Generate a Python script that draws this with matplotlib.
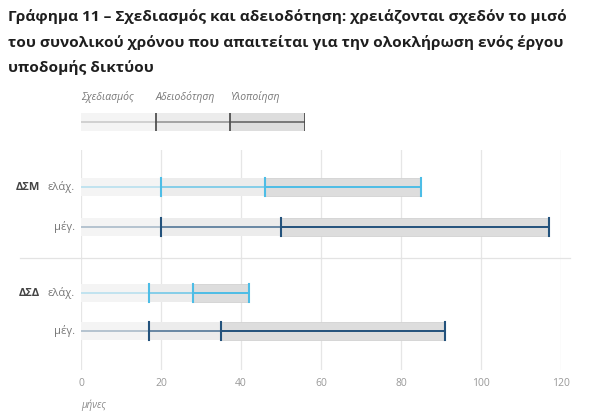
import matplotlib.pyplot as plt
from matplotlib.lines import Line2D

plt.rcParams['font.family'] = ['Open Sans', 'DejaVu Sans']

# data (months)
groups = ['ΔΣΜ', 'ΔΣΔ']
cases = ['ελάχ.', 'μέγ.']
planning_end = [20, 20, 17, 17]      # end of Σχεδιασμός
permit_end = [46, 50, 28, 35]        # end of Αδειοδότηση
build_end = [85, 117, 42, 91]        # end of Υλοποίηση
phase_names = ['Σχεδιασμός', 'Αδειοδότηση', 'Υλοποίηση']
xticks = [0, 20, 40, 60, 80, 100, 120]

title = ('Γράφημα 11 – Σχεδιασμός και αδειοδότηση: χρειάζονται σχεδόν το μισό\n'
         'του συνολικού χρόνου που απαιτείται για την ολοκλήρωση ενός έργου\n'
         'υποδομής δικτύου')

W, H = 591, 412
fig = plt.figure(figsize=(W / 100, H / 100), dpi=100)

def px(x0, y0, x1, y1):
    return [x0 / W, 1 - y1 / H, (x1 - x0) / W, (y1 - y0) / H]

fig.text(8 / W, 1 - 9 / H, title, ha='left', va='top', fontsize=11.1,
         fontweight='bold', color='#1e1e1e', linespacing=1.9)

seg_bg = ['#f4f4f4', '#ececec', '#dddddd']
seg_alpha = [0.3, 0.65, 1.0]
blue_light = '#4dbde6'
blue_dark = '#23527c'

# legend sample
lax = fig.add_axes(px(81, 113, 305, 131))
lax.set_xlim(0, 3)
lax.set_ylim(-0.5, 0.5)
lax.axis('off')
for i in range(3):
    lax.barh(0, 1, left=i, height=1, color=seg_bg[i], linewidth=0)
    lax.plot([i, i + 1], [0, 0], color='#555555', alpha=seg_alpha[i] * 0.8, lw=1.3)
    lax.plot([i + 1, i + 1], [-0.5, 0.5], color='#444444', lw=1.2)
    lax.text(i, 1.05, phase_names[i], ha='left', va='bottom', fontsize=7.5,
             style='italic', color='#777777', transform=lax.transData)

# main chart
ax = fig.add_axes(px(81, 150, 561, 370))
ypos = [0, 1, 2.65, 3.6]
ax.set_xlim(0, 120)
ax.set_ylim(4.575, -0.925)
bh = 0.45
for k in range(4):
    col = blue_light if k % 2 == 0 else blue_dark
    bounds = [0, planning_end[k], permit_end[k], build_end[k]]
    y = ypos[k]
    for i in range(3):
        ax.barh(y, bounds[i + 1] - bounds[i], left=bounds[i], height=bh,
                color=seg_bg[i], edgecolor='#d2d2d2' if i == 2 else 'none',
                linewidth=0.6, zorder=2)
        ax.plot([bounds[i], bounds[i + 1]], [y, y], color=col,
                alpha=seg_alpha[i], lw=1.4, zorder=3)
        ax.plot([bounds[i + 1]] * 2, [y - bh / 2, y + bh / 2], color=col,
                lw=1.5, zorder=4)
    ax.text(-1.5, y, cases[k % 2], ha='right', va='center', fontsize=8,
            color='#777777')
    if k % 2 == 0:
        ax.text(-10.3, y, groups[k // 2], ha='right', va='center', fontsize=8,
                fontweight='bold', color='#444444')

ax.set_xticks(xticks)
ax.set_yticks([])
ax.grid(axis='x', color='#e6e6e6', lw=0.9, zorder=0)
ax.set_axisbelow(True)
for s in ax.spines.values():
    s.set_visible(False)
ax.tick_params(axis='x', length=0, pad=6, labelsize=7.5, labelcolor='#999999')

fig.add_artist(Line2D([20 / W, 570 / W], [1 - 258 / H] * 2, color='#e3e3e3', lw=0.9))

fig.text(81 / W, 1 - 405 / H, 'μήνες', ha='left', va='center', fontsize=7,
         style='italic', color='#888888')

fig.savefig('out.png', dpi=100)
